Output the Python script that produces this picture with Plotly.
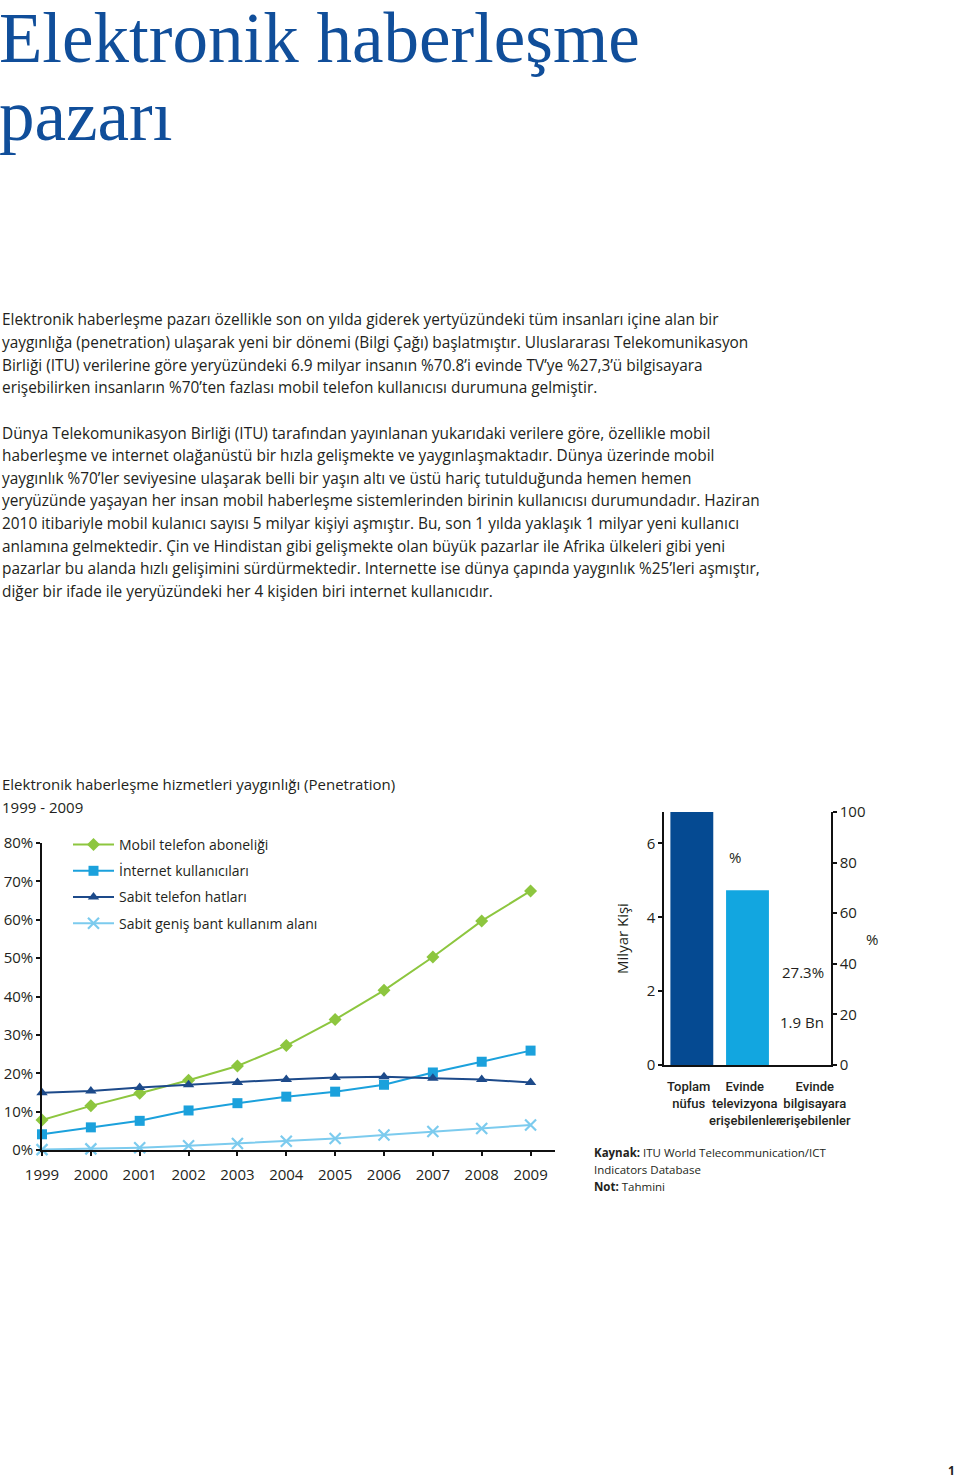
import plotly.graph_objects as go

W, H = 960, 1478
def px(x): return x / W
def py(y): return 1 - y / H

# ---------------- data ----------------
years = [1999, 2000, 2001, 2002, 2003, 2004, 2005, 2006, 2007, 2008, 2009]
mobil = [7.8, 11.5, 14.8, 18.2, 21.9, 27.2, 34.0, 41.6, 50.3, 59.7, 67.5]
internet = [4.1, 5.9, 7.6, 10.3, 12.2, 13.9, 15.2, 17.0, 20.2, 23.0, 25.9]
sabit = [14.9, 15.4, 16.3, 17.0, 17.6, 18.4, 18.9, 19.1, 18.7, 18.4, 17.6]
genis = [0.1, 0.3, 0.6, 1.1, 1.7, 2.3, 3.0, 3.9, 4.8, 5.6, 6.5]
series_names = ["Mobil telefon aboneliği", "İnternet kullanıcıları",
                "Sabit telefon hatları", "Sabit geniş bant kullanım alanı"]

bar_cats = ["Toplam<br>nüfus", "Evinde<br>televizyona<br>erişebilenler",
            "Evinde<br>bilgisayara<br>erişebilenler"]
bar_vals = [6.85, 4.73, None]   # milyar kişi
pc_ticks = [0, 20, 40, 60, 80, 100]
pc_label_vals = [36.8, 17.0]
pc_labels = ["27.3%", "1.9 Bn"]

title_lines = ["Elektronik haberleşme", "pazarı"]
para1 = [
    "Elektronik haberleşme pazarı özellikle son on yılda giderek yertyüzündeki tüm insanları içine alan bir",
    "yaygınlığa (penetration) ulaşarak yeni bir dönemi (Bilgi Çağı) başlatmıştır. Uluslararası Telekomunikasyon",
    "Birliği (ITU) verilerine göre yeryüzündeki 6.9 milyar insanın %70.8’i evinde TV’ye %27,3’ü bilgisayara",
    "erişebilirken insanların %70’ten fazlası mobil telefon kullanıcısı durumuna gelmiştir.",
]
para2 = [
    "Dünya Telekomunikasyon Birliği (ITU) tarafından yayınlanan yukarıdaki verilere göre, özellikle mobil",
    "haberleşme ve internet olağanüstü bir hızla gelişmekte ve yaygınlaşmaktadır. Dünya üzerinde mobil",
    "yaygınlık %70’ler seviyesine ulaşarak belli bir yaşın altı ve üstü hariç tutulduğunda hemen hemen",
    "yeryüzünde yaşayan her insan mobil haberleşme sistemlerinden birinin kullanıcısı durumundadır. Haziran",
    "2010 itibariyle mobil kulanıcı sayısı 5 milyar kişiyi aşmıştır. Bu, son 1 yılda yaklaşık 1 milyar yeni kullanıcı",
    "anlamına gelmektedir. Çin ve Hindistan gibi gelişmekte olan büyük pazarlar ile Afrika ülkeleri gibi yeni",
    "pazarlar bu alanda hızlı gelişimini sürdürmektedir. Internette ise dünya çapında yaygınlık %25’leri aşmıştır,",
    "diğer bir ifade ile yeryüzündeki her 4 kişiden biri internet kullanıcıdır.",
]
chart_title = ["Elektronik haberleşme hizmetleri yaygınlığı (Penetration)", "1999 - 2009"]
source_lines = ["<b>Kaynak:</b> ITU World Telecommunication/ICT",
                "Indicators Database", "<b>Not:</b> Tahmini"]

# ---------------- style ----------------
FONT = "Open Sans"
TXT = "#231f20"
c_mob, c_int, c_sab, c_gen = "#8dc63f", "#1ba1dc", "#1d4a8a", "#7ccbee"
c_bar1, c_bar2 = "#054a92", "#12a6e0"

fig = go.Figure()

styles = [
    (mobil, c_mob, "diamond", 10, None),
    (internet, c_int, "square", 10, None),
    (sabit, c_sab, "triangle-up", 10, None),
    (genis, c_gen, "x-thin", 11, 2.2),
]
for i, (vals, col, sym, sz, lw) in enumerate(styles):
    mk = dict(symbol=sym, size=sz, color=col)
    if lw:
        mk["line"] = dict(color=col, width=lw)
    fig.add_trace(go.Scatter(
        x=years, y=vals, name=series_names[i], mode="lines+markers",
        line=dict(color=col, width=2), marker=mk, cliponaxis=False,
        legendgroup=f"g{i}", xaxis="x", yaxis="y"))

fig.add_trace(go.Bar(x=bar_cats, y=bar_vals, marker_color=[c_bar1, c_bar2, c_bar2],
                     showlegend=False, xaxis="x2", yaxis="y2", hoverinfo="skip"))
# invisible trace so that the right-hand % axis is drawn
fig.add_trace(go.Scatter(x=[bar_cats[0]], y=[None], mode="markers", showlegend=False,
                         xaxis="x2", yaxis="y3", hoverinfo="skip"))

axis_common = dict(showline=True, linecolor="#111", linewidth=1.5, ticks="outside",
                   tickcolor="#111", ticklen=4, tickwidth=1.5, showgrid=False,
                   zeroline=False, automargin=False,
                   tickfont=dict(family=FONT, size=15, color=TXT))

fig.update_layout(
    template="none",
    width=W, height=H, margin=dict(l=0, r=0, t=0, b=0, pad=0),
    paper_bgcolor="white", plot_bgcolor="rgba(0,0,0,0)",
    bargap=0.23,
    xaxis=dict(domain=[px(42), px(555)], range=[1999, 2009.5], tickvals=years,
               anchor="y", ticklabelstandoff=6, **axis_common),
    yaxis=dict(domain=[py(1150), py(843)], range=[0, 80], dtick=10, ticksuffix="%",
               anchor="x", **axis_common),
    xaxis2=dict(domain=[px(664), px(831)], type="category", range=[-0.5, 2.5],
                anchor="y2", showline=True, linecolor="#111", linewidth=1.5,
                ticks="", showgrid=False, showticklabels=False, automargin=False),
    yaxis2=dict(domain=[py(1065), py(812)], range=[0, 6.85], tickvals=[0, 2, 4, 6],
                anchor="x2", title=dict(text="Milyar Kişi", standoff=14,
                                        font=dict(family=FONT, size=15, color=TXT)),
                **axis_common),
    yaxis3=dict(overlaying="y2", side="right", anchor="x2", range=[0, 100],
                tickvals=pc_ticks, **axis_common),
    legend=dict(x=px(68), y=py(829), xanchor="left", yanchor="top",
                bgcolor="rgba(0,0,0,0)", itemwidth=41, tracegroupgap=5,
                traceorder="grouped", font=dict(family=FONT, size=14, color=TXT)),
    showlegend=True,
)

ann = []
# page title
for t, yc in zip(title_lines, [38, 116]):
    ann.append(dict(text=t, x=px(-3), y=py(yc), xanchor="left", yanchor="middle",
                    font=dict(family="Liberation Serif", size=71, color="#104e9a")))
# body
for lines, y0 in [(para1, 320), (para2, 433)]:
    for k, t in enumerate(lines):
        ann.append(dict(text=t, x=px(0), y=py(y0 + k * 22.6), xanchor="left",
                        yanchor="middle", font=dict(family=FONT, size=15.4, color=TXT)))
# chart title
for t, yc in zip(chart_title, [784, 807]):
    ann.append(dict(text=t, x=px(0), y=py(yc), xanchor="left", yanchor="middle",
                    font=dict(family=FONT, size=15, color=TXT)))
# % inside bar chart and right-axis title
ann.append(dict(text="%", x=px(735), y=py(857), xanchor="center", yanchor="middle",
                font=dict(family=FONT, size=15, color=TXT)))
ann.append(dict(text="%", x=px(872), y=py(939), xanchor="center", yanchor="middle",
                font=dict(family=FONT, size=15, color=TXT)))
# source
for k, t in enumerate(source_lines):
    ann.append(dict(text=t, x=px(592), y=py(1152 + k * 17), xanchor="left", yanchor="middle",
                    font=dict(family=FONT, size=11.5, color=TXT)))
# page number
ann.append(dict(text="<b>1</b>", x=px(957), y=py(1470), xanchor="right", yanchor="middle",
                font=dict(family=FONT, size=12, color=TXT)))
for a in ann:
    a.update(xref="paper", yref="paper", showarrow=False)
# value labels on the % axis
for v, t in zip(pc_label_vals, pc_labels):
    ann.append(dict(text=t, x=px(826), y=v, xref="paper", yref="y3", xanchor="right",
                    yanchor="middle", showarrow=False,
                    font=dict(family=FONT, size=15, color=TXT)))
# category labels under the bars
for c, shift in zip(bar_cats, [-3, -3, 12]):
    ann.append(dict(text=c, x=c, y=py(1077), xref="x2", yref="paper", xanchor="center",
                    yanchor="top", xshift=shift, showarrow=False, align="center",
                    font=dict(family="Roboto", size=13, color=TXT, weight=500)))
fig.update_layout(annotations=ann)

fig.write_html("out.html", config={"displayModeBar": False},
               post_script="document.body.style.margin='0';")
